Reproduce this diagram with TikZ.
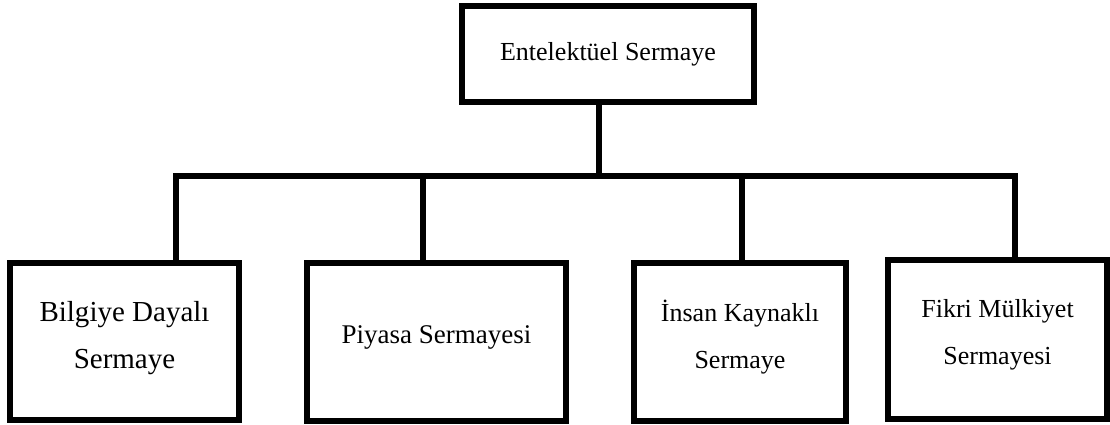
\documentclass[tikz,border=0pt]{standalone}
\usepackage{fontspec}
\setmainfont{Liberation Serif}
\begin{document}
\begin{tikzpicture}[x=1pt,y=-1pt,
  box/.style={draw=black,line width=5.5pt,rectangle,inner sep=0pt,minimum width=#1},
  lbl/.style={align=center,inner sep=0pt,font=\fontsize{#1}{47}\selectfont},
  lbl/.default=26,
  wire/.style={draw=black,line width=5.5pt}]
  \useasboundingbox (0,0) rectangle (1110,425);
  % top node
  \node[box=292pt,minimum height=96pt] (top) at (608,54) {};
  \node[lbl] (topt) at (top.center) {Entelektüel Sermaye};
  % children
  \node[box=229pt,minimum height=157pt] (b1) at (124.5,341.5) {};
  \node[box=259pt,minimum height=158pt] (b2) at (436.5,342) {};
  \node[box=212pt,minimum height=158pt] (b3) at (740,342) {};
  \node[box=219pt,minimum height=159pt] (b4) at (997.5,339.5) {};
  \node[lbl=29] (t1) at ([yshift=3pt]b1.center) {Bilgiye Dayalı\\Sermaye};
  \node[lbl=27] (t2) at ([yshift=5pt]b2.center) {Piyasa Sermayesi};
  \node[lbl] (t3) at ([yshift=5pt]b3.center) {İnsan Kaynaklı\\Sermaye};
  \node[lbl] (t4) at ([yshift=5pt]b4.center) {Fikri Mülkiyet\\Sermayesi};
  % junctions on the horizontal bar
  \coordinate (jL) at (176,176);
  \coordinate (j0) at (599,176);
  \coordinate (j2) at (423,176);
  \coordinate (j3) at (742,176);
  \coordinate (jR) at (1015,176);
  \draw[wire] (j0 |- top.south) -- (j0);
  \draw[wire,line join=miter] (jL |- b1.north) -- (jL) -- (jR) -- (jR |- b4.north);
  \draw[wire] (j2) -- (j2 |- b2.north);
  \draw[wire] (j3) -- (j3 |- b3.north);
\end{tikzpicture}
\end{document}
